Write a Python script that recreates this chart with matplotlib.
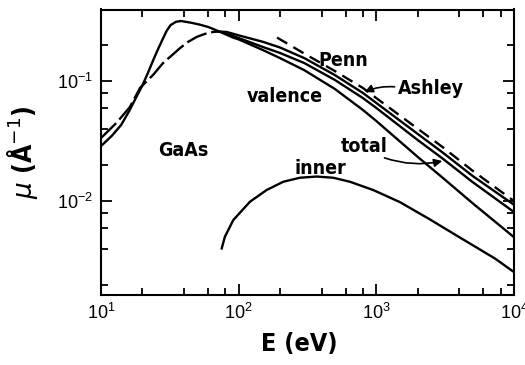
import matplotlib
matplotlib.use('Agg')
import matplotlib.pyplot as plt
from matplotlib.ticker import LogLocator, NullFormatter

# data (E in eV, mu in 1/Angstrom)
E_val = [10, 12, 14, 16, 18, 20, 22, 24, 26, 28, 30, 32, 35, 38, 45, 52, 60, 73, 91,
         100, 150, 200, 300, 500, 800, 1000, 2000, 3000, 5000, 10000]
mu_val = [0.0287, 0.035, 0.043, 0.056, 0.073, 0.092, 0.118, 0.150, 0.185, 0.222, 0.262, 0.292,
          0.311, 0.316, 0.306, 0.295, 0.282, 0.257, 0.230,
          0.222, 0.181, 0.155, 0.123, 0.0858, 0.0573, 0.0464, 0.0233, 0.0158, 0.0096, 0.0050]

E_tot = [75, 100, 150, 200, 300, 500, 800, 1000, 2000, 3000, 5000, 10000]
mu_tot = [0.256, 0.228, 0.192, 0.171, 0.141, 0.102, 0.072, 0.0596, 0.0322, 0.0228, 0.0144, 0.0081]

E_ash_lo = [10, 13, 16.2, 19.2, 24, 28.2, 33, 37.5, 43, 49.6, 57, 65, 72]
mu_ash_lo = [0.0335, 0.045, 0.0607, 0.0875, 0.113, 0.141, 0.165, 0.188, 0.212, 0.233, 0.247, 0.256, 0.258]
E_ash = [72, 82, 100, 150, 200, 300, 500, 800, 1000, 2000, 3000, 5000, 10000]
mu_ash = [0.258, 0.256, 0.240, 0.212, 0.19, 0.155, 0.112, 0.0794, 0.0656, 0.0362, 0.0256, 0.0162, 0.0093]

E_penn = [190, 300, 500, 800, 1000, 2000, 3000, 5000, 10000]
mu_penn = [0.230, 0.169, 0.121, 0.0874, 0.072, 0.040, 0.0284, 0.0179, 0.0100]

E_inn = [75.3, 79.4, 91.4, 120.8, 159.5, 210.9, 278.6, 368, 486, 643, 950, 1483, 2400, 4190, 7310, 10000]
mu_inn = [0.00403, 0.00504, 0.00695, 0.00987, 0.01235, 0.01448, 0.01564, 0.0160, 0.01564, 0.01448,
          0.01235, 0.0098, 0.00713, 0.00485, 0.00331, 0.00256]

lab_font = ['DejaVu Sans']
plt.rcParams['font.family'] = ['Liberation Sans', 'DejaVu Sans']

fig = plt.figure(figsize=(5.25, 3.65), dpi=100)
ax = fig.add_axes([101/525, 1-295/365, 413/525, 285.5/365])

lw = 1.7
ax.plot(E_val, mu_val, 'k-', lw=lw)
ax.plot(E_tot, mu_tot, 'k-', lw=lw)
ax.plot(E_ash_lo, mu_ash_lo, 'k-', lw=lw, dashes=(9, 2))
ax.plot(E_ash, mu_ash, 'k-', lw=lw)
ax.plot(E_penn, mu_penn, 'k-', lw=lw, dashes=(5, 3))
ax.plot(E_inn, mu_inn, 'k-', lw=lw)

ax.set_xscale('log')
ax.set_yscale('log')
ax.set_xlim(10, 10000)
ax.set_ylim(0.00165, 0.394)

ax.xaxis.set_minor_locator(LogLocator(base=10, subs=[2, 4, 6, 8]))
ax.yaxis.set_minor_locator(LogLocator(base=10, subs=[2, 4, 6, 8]))
ax.xaxis.set_minor_formatter(NullFormatter())
ax.yaxis.set_minor_formatter(NullFormatter())
ax.tick_params(which='both', direction='in', top=True, right=True, width=1.3)
ax.tick_params(which='major', length=8, labelsize=13, pad=6)
ax.tick_params(which='minor', length=5)
for s in ax.spines.values():
    s.set_linewidth(1.5)

ax.set_xlabel('E (eV)', fontsize=18, family=lab_font, fontweight='bold',
              fontstretch='condensed', labelpad=6)
ax.xaxis.set_label_coords((299-101)/413, -0.13)
ax.set_ylabel(r'$\mu$ (Å$^{-1}$)', fontsize=19, family=lab_font, fontweight='bold',
              fontstretch='condensed', labelpad=12)

tk = dict(transform=ax.transAxes, fontsize=14, family=lab_font, fontweight='bold',
          fontstretch='condensed', ha='center', va='center')
ax.text((183-101)/413, (295-150)/285.5, 'GaAs', **tk)
ax.text((343-101)/413, (295-60)/285.5, 'Penn', **tk)
ax.text((431-101)/413, (295-88)/285.5, 'Ashley', **tk)
ax.text((285-101)/413, (295-97)/285.5, 'valence', **tk)
ax.text((364-101)/413, (295-146)/285.5, 'total', **tk)
ax.text((320-101)/413, (295-168)/285.5, 'inner', **tk)

ax.annotate('', xy=(790, 0.079), xytext=(1420, 0.089),
            arrowprops=dict(arrowstyle='-|>', color='k', lw=1.2, mutation_scale=12,
                            connectionstyle='arc3,rad=0.15'))
ax.annotate('', xy=(3150, 0.0218), xytext=(1097, 0.0233),
            arrowprops=dict(arrowstyle='-|>', color='k', lw=1.2, mutation_scale=12,
                            connectionstyle='arc3,rad=0.15'))

fig.savefig('out.png', dpi=100)
